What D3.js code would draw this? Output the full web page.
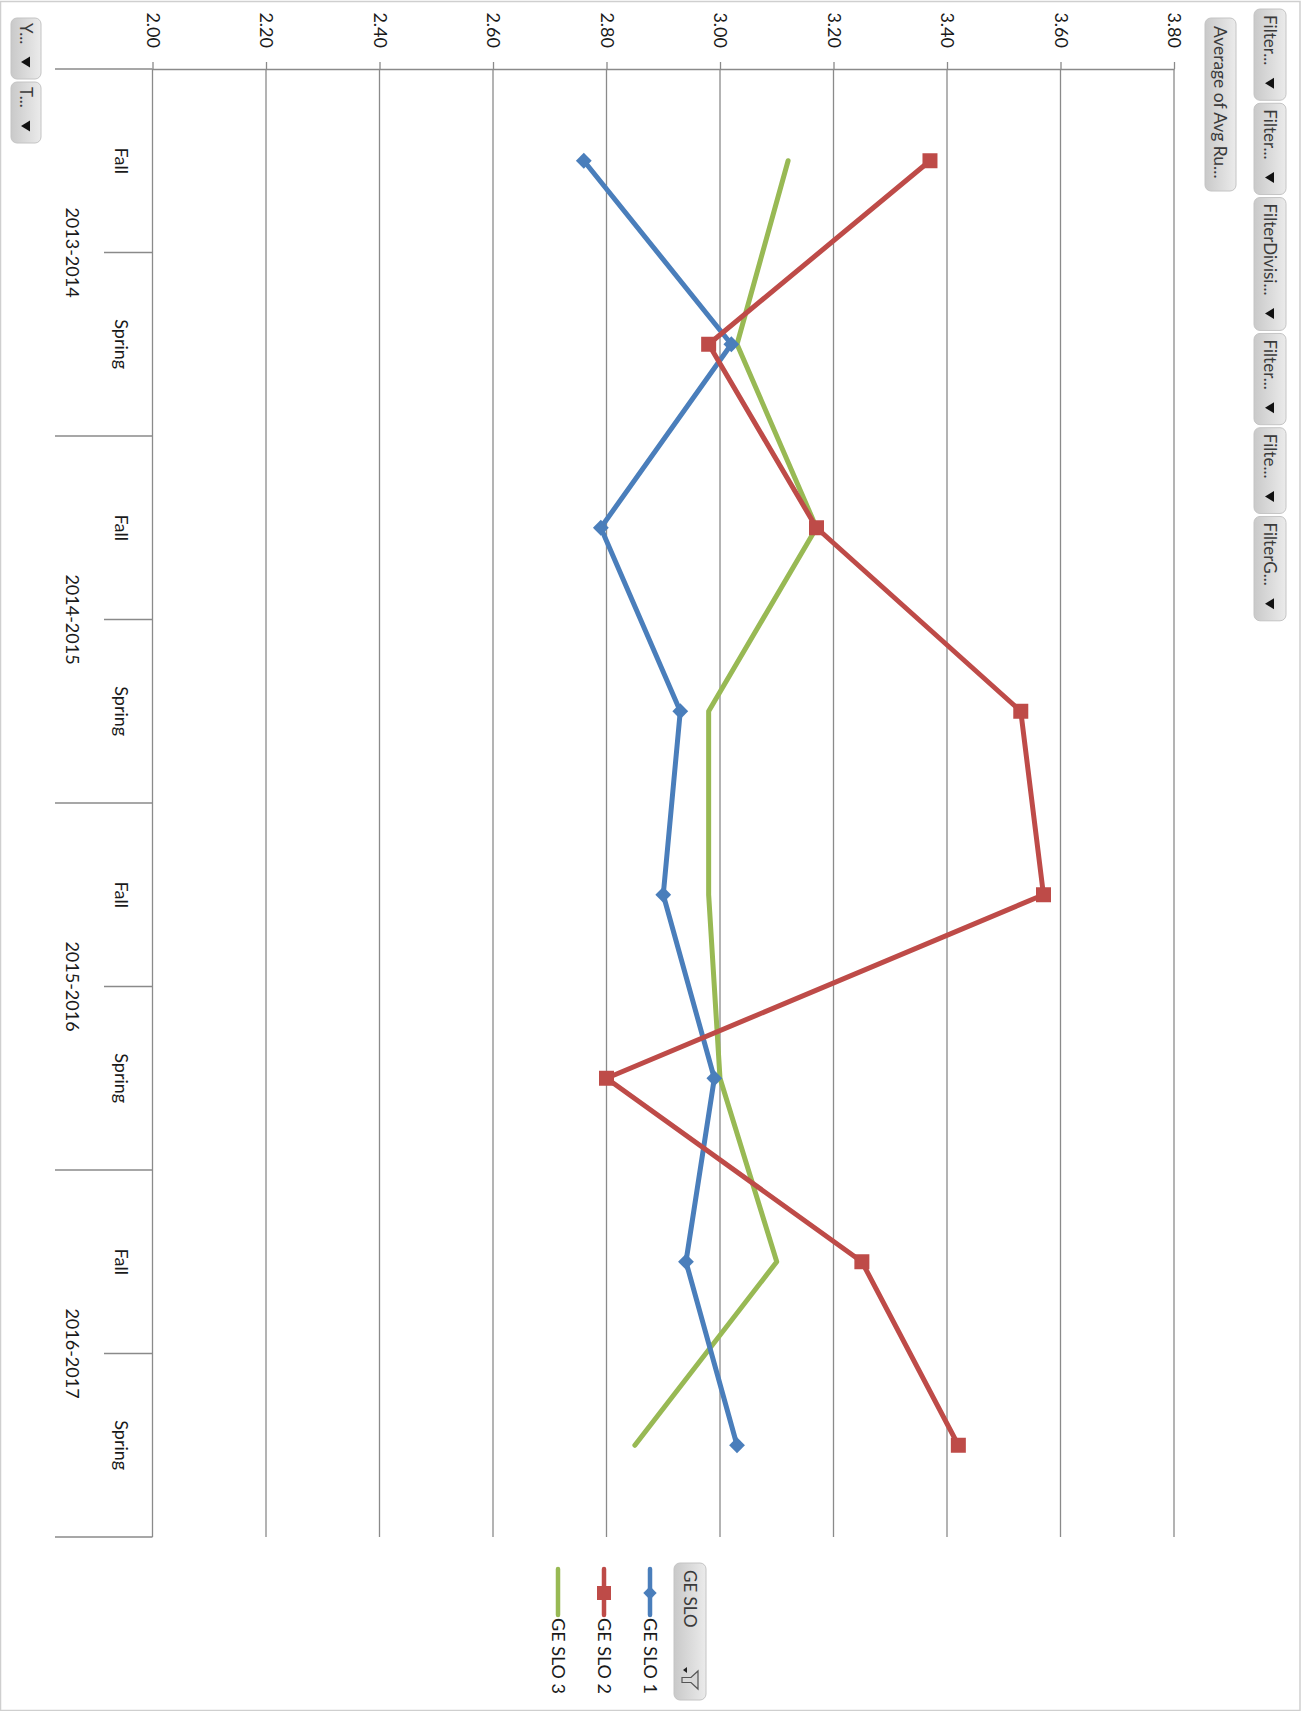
<!DOCTYPE html>
<html>
<head>
<meta charset="utf-8">
<script src="https://cdn.jsdelivr.net/npm/d3@7"></script>
<style>
  body { margin: 0; background: #fff; }
  svg { display: block; }
  text { font-family: Lato, "Open Sans", "DejaVu Sans", sans-serif; }
</style>
</head>
<body>
<svg id="chart" width="1306" height="1711"></svg>
<script>
// ---- data ----
const years = ["2013-2014", "2014-2015", "2015-2016", "2016-2017"];
const terms = ["Fall", "Spring"];
const valueTicks = [2.00, 2.20, 2.40, 2.60, 2.80, 3.00, 3.20, 3.40, 3.60, 3.80];
const seriesNames = ["GE SLO 1", "GE SLO 2", "GE SLO 3"];
const slo1 = [2.76, 3.02, 2.79, 2.93, 2.90, 2.99, 2.94, 3.03];
const slo2 = [3.37, 2.98, 3.17, 3.53, 3.57, 2.80, 3.25, 3.42];
const slo3 = [3.12, 3.03, 3.17, 2.98, 2.98, 3.00, 3.10, 2.85];
const pageFilters = ["Filter...", "Filter...", "FilterDivisi...", "Filter...", "Filte...", "FilterG..."];
const valueField = "Average of Avg Ru...";
const axisFields = ["Y...", "T..."];
const legendField = "GE SLO";

// ---- setup ----
const W = 1306, H = 1711;
const svg = d3.select("#chart");
const categories = years.flatMap(yr => terms.map(t => yr + "|" + t));
const plot = { left: 152.5, right: 1174, top: 69, bottom: 1537 };
const gridColor = "#8a8a8a";
const colors = ["#4A7EBB", "#BE4B48", "#98B954"];
const markers = ["diamond", "square", null];
const series = seriesNames.map((name, i) => ({
  name, values: [slo1, slo2, slo3][i], color: colors[i], marker: markers[i]
}));

// value runs left to right, categories top to bottom
const x = d3.scaleLinear().domain([2, 3.8]).range([plot.left, plot.right]);
const y = d3.scaleBand().domain(categories).range([plot.top, plot.bottom]);
const yYear = d3.scaleBand().domain(years).range([plot.top, plot.bottom]);

svg.append("rect").attr("width", W).attr("height", H).attr("fill", "#fff");
// outer frame
svg.append("rect").attr("x", 0.5).attr("y", 1.5).attr("width", 1299.5).attr("height", H - 2)
  .attr("fill", "none").attr("stroke", "#cfcfcf").attr("stroke-width", 1.5);

// ---- gridlines ----
svg.append("g").selectAll("line").data(valueTicks).join("line")
  .attr("x1", d => x(d)).attr("x2", d => x(d))
  .attr("y1", plot.top).attr("y2", plot.bottom)
  .attr("stroke", gridColor).attr("stroke-width", 1.3);

// ---- value axis (along the top) ----
const vAxis = svg.append("g").attr("transform", `translate(0,${plot.top})`)
  .call(d3.axisTop(x).tickValues(valueTicks).tickFormat(d3.format(".2f")).tickSize(7).tickSizeOuter(0));
vAxis.select(".domain").attr("stroke", gridColor).attr("stroke-width", 1.5);
vAxis.selectAll(".tick line").attr("stroke", gridColor).attr("stroke-width", 1.3);
vAxis.selectAll(".tick text")
  .attr("x", 0).attr("y", 0).attr("dy", "0.35em")
  .attr("transform", "translate(0,-21) rotate(90)")
  .attr("text-anchor", "end")
  .attr("font-size", 18).attr("fill", "#1a1a1a")
  .style("font-family", "Lato, 'Open Sans', sans-serif");

// ---- category axis (along the left) ----
const cat = svg.append("g");
cat.append("line").attr("x1", 55).attr("x2", plot.left).attr("y1", plot.top).attr("y2", plot.top)
  .attr("stroke", gridColor).attr("stroke-width", 1.5);
// year group separators
cat.selectAll("line.year").data(years).join("line").attr("class", "year")
  .attr("x1", 55).attr("x2", plot.left)
  .attr("y1", d => yYear(d) + yYear.bandwidth()).attr("y2", d => yYear(d) + yYear.bandwidth())
  .attr("stroke", gridColor).attr("stroke-width", 1.5);
// term separators inside each year
cat.selectAll("line.term").data(years).join("line").attr("class", "term")
  .attr("x1", 104).attr("x2", plot.left)
  .attr("y1", d => y(d + "|" + terms[1])).attr("y2", d => y(d + "|" + terms[1]))
  .attr("stroke", gridColor).attr("stroke-width", 1.5);

cat.selectAll("text.term").data(categories).join("text").attr("class", "term")
  .attr("transform", d => `translate(121,${y(d) + y.bandwidth() / 2}) rotate(90)`)
  .attr("text-anchor", "middle").attr("dy", "0.35em")
  .attr("font-size", 18).attr("fill", "#1a1a1a")
  .text(d => d.split("|")[1]);

cat.selectAll("text.year").data(years).join("text").attr("class", "year")
  .attr("transform", d => `translate(72,${yYear(d) + yYear.bandwidth() / 2}) rotate(90)`)
  .attr("text-anchor", "middle").attr("dy", "0.35em")
  .attr("font-size", 18).attr("fill", "#1a1a1a")
  .text(d => d);

// ---- series ----
const line = d3.line()
  .x(d => x(d.v))
  .y(d => y(d.c) + y.bandwidth() / 2);

const symbolFor = m => m === "square"
  ? d3.symbol(d3.symbolSquare, 225)()
  : d3.symbol(d3.symbolSquare, 125)();

const drawOrder = [2, 0, 1];
drawOrder.forEach(i => {
  const s = series[i];
  const pts = s.values.map((v, k) => ({ v, c: categories[k] }));
  const g = svg.append("g");
  g.append("path").datum(pts).attr("d", line)
    .attr("fill", "none").attr("stroke", s.color).attr("stroke-width", 5)
    .attr("stroke-linejoin", "round").attr("stroke-linecap", "round");
  if (s.marker) {
    g.selectAll("path.mk").data(pts).join("path").attr("class", "mk")
      .attr("d", symbolFor(s.marker))
      .attr("transform", d => `translate(${x(d.v)},${y(d.c) + y.bandwidth() / 2})` + (s.marker === "diamond" ? " rotate(45)" : ""))
      .attr("fill", s.color);
  }
});

// ---- buttons ----
function button(x0, y0, w, label, opts = {}) {
  const g = svg.append("g");
  const fs = opts.fontSize || 17;
  const t = g.append("text")
    .attr("transform", `translate(${x0 + w / 2},${y0 + (opts.padTop || 6)}) rotate(90)`)
    .attr("dy", "0.35em").attr("font-size", fs).attr("fill", "#3a3a3a").text(label);
  const len = t.node().getComputedTextLength();
  const h = opts.height || (len + (opts.padTop || 6) + (opts.arrow ? 35 : 8));
  g.insert("rect", "text")
    .attr("x", x0).attr("y", y0).attr("width", w).attr("height", h).attr("rx", 6)
    .attr("fill", "url(#btnGrad)").attr("stroke", "#c4c4c4").attr("stroke-width", 1);
  if (opts.arrow) {
    const ay = y0 + h - 17, cx = x0 + w / 2;
    g.append("path").attr("d", `M${cx + 4},${ay - 5.5}L${cx + 4},${ay + 5.5}L${cx - 5},${ay}Z`).attr("fill", "#111");
  }
  return h;
}

const defs = svg.append("defs");
const grad = defs.append("linearGradient").attr("id", "btnGrad").attr("x1", 0).attr("x2", 1).attr("y1", 0).attr("y2", 0);
grad.append("stop").attr("offset", "0%").attr("stop-color", "#c9c9c9");
grad.append("stop").attr("offset", "100%").attr("stop-color", "#ebebeb");

// page filter buttons (right edge)
let by = 9;
pageFilters.forEach(f => {
  const h = button(1254, by, 32, f, { arrow: true, padTop: 6 });
  by += h + 3;
});
// value field button
button(1205, 18, 31, valueField, { padTop: 8, fontSize: 17.5, height: 173 });
// axis field buttons (left edge)
let ay0 = 18;
axisFields.forEach(f => {
  const h = button(11, ay0, 30, f, { arrow: true, padTop: 5, height: 61 });
  ay0 += h + 3;
});

// ---- legend ----
const legX = 650, legStep = 46, legTop = 1569;
button(674, 1563, 32, legendField, { padTop: 7, height: 137 });
// filter funnel icon on the legend button
const fx = 690, fy = 1680;
svg.append("path")
  .attr("d", `M${fx + 8},${fy - 9}L${fx + 8},${fy + 9}L${fx + 1},${fy + 2.5}L${fx - 8},${fy + 2.5}L${fx - 8},${fy - 2.5}L${fx + 1},${fy - 2.5}Z`)
  .attr("fill", "#d8d8d8").attr("stroke", "#555").attr("stroke-width", 1.2);
svg.append("path").attr("d", `M${fx - 3},${fy - 13}L${fx - 3},${fy - 7}L${fx - 7},${fy - 10}Z`).attr("fill", "#222");

const leg = svg.append("g").selectAll("g").data(series).join("g")
  .attr("transform", (d, i) => `translate(${legX - i * legStep},${legTop})`);
leg.append("line").attr("x1", 0).attr("x2", 0).attr("y1", 0).attr("y2", 46)
  .attr("stroke", d => d.color).attr("stroke-width", 4.5).attr("stroke-linecap", "round");
leg.filter(d => d.marker).append("path")
  .attr("d", d => d.marker === "square" ? d3.symbol(d3.symbolSquare, 196)() : d3.symbol(d3.symbolSquare, 90)())
  .attr("transform", d => "translate(0,24)" + (d.marker === "diamond" ? " rotate(45)" : ""))
  .attr("fill", d => d.color);
leg.append("text")
  .attr("transform", "translate(0,49) rotate(90)")
  .attr("dy", "0.35em").attr("font-size", 18).attr("fill", "#1a1a1a")
  .text(d => d.name);
</script>
</body>
</html>
